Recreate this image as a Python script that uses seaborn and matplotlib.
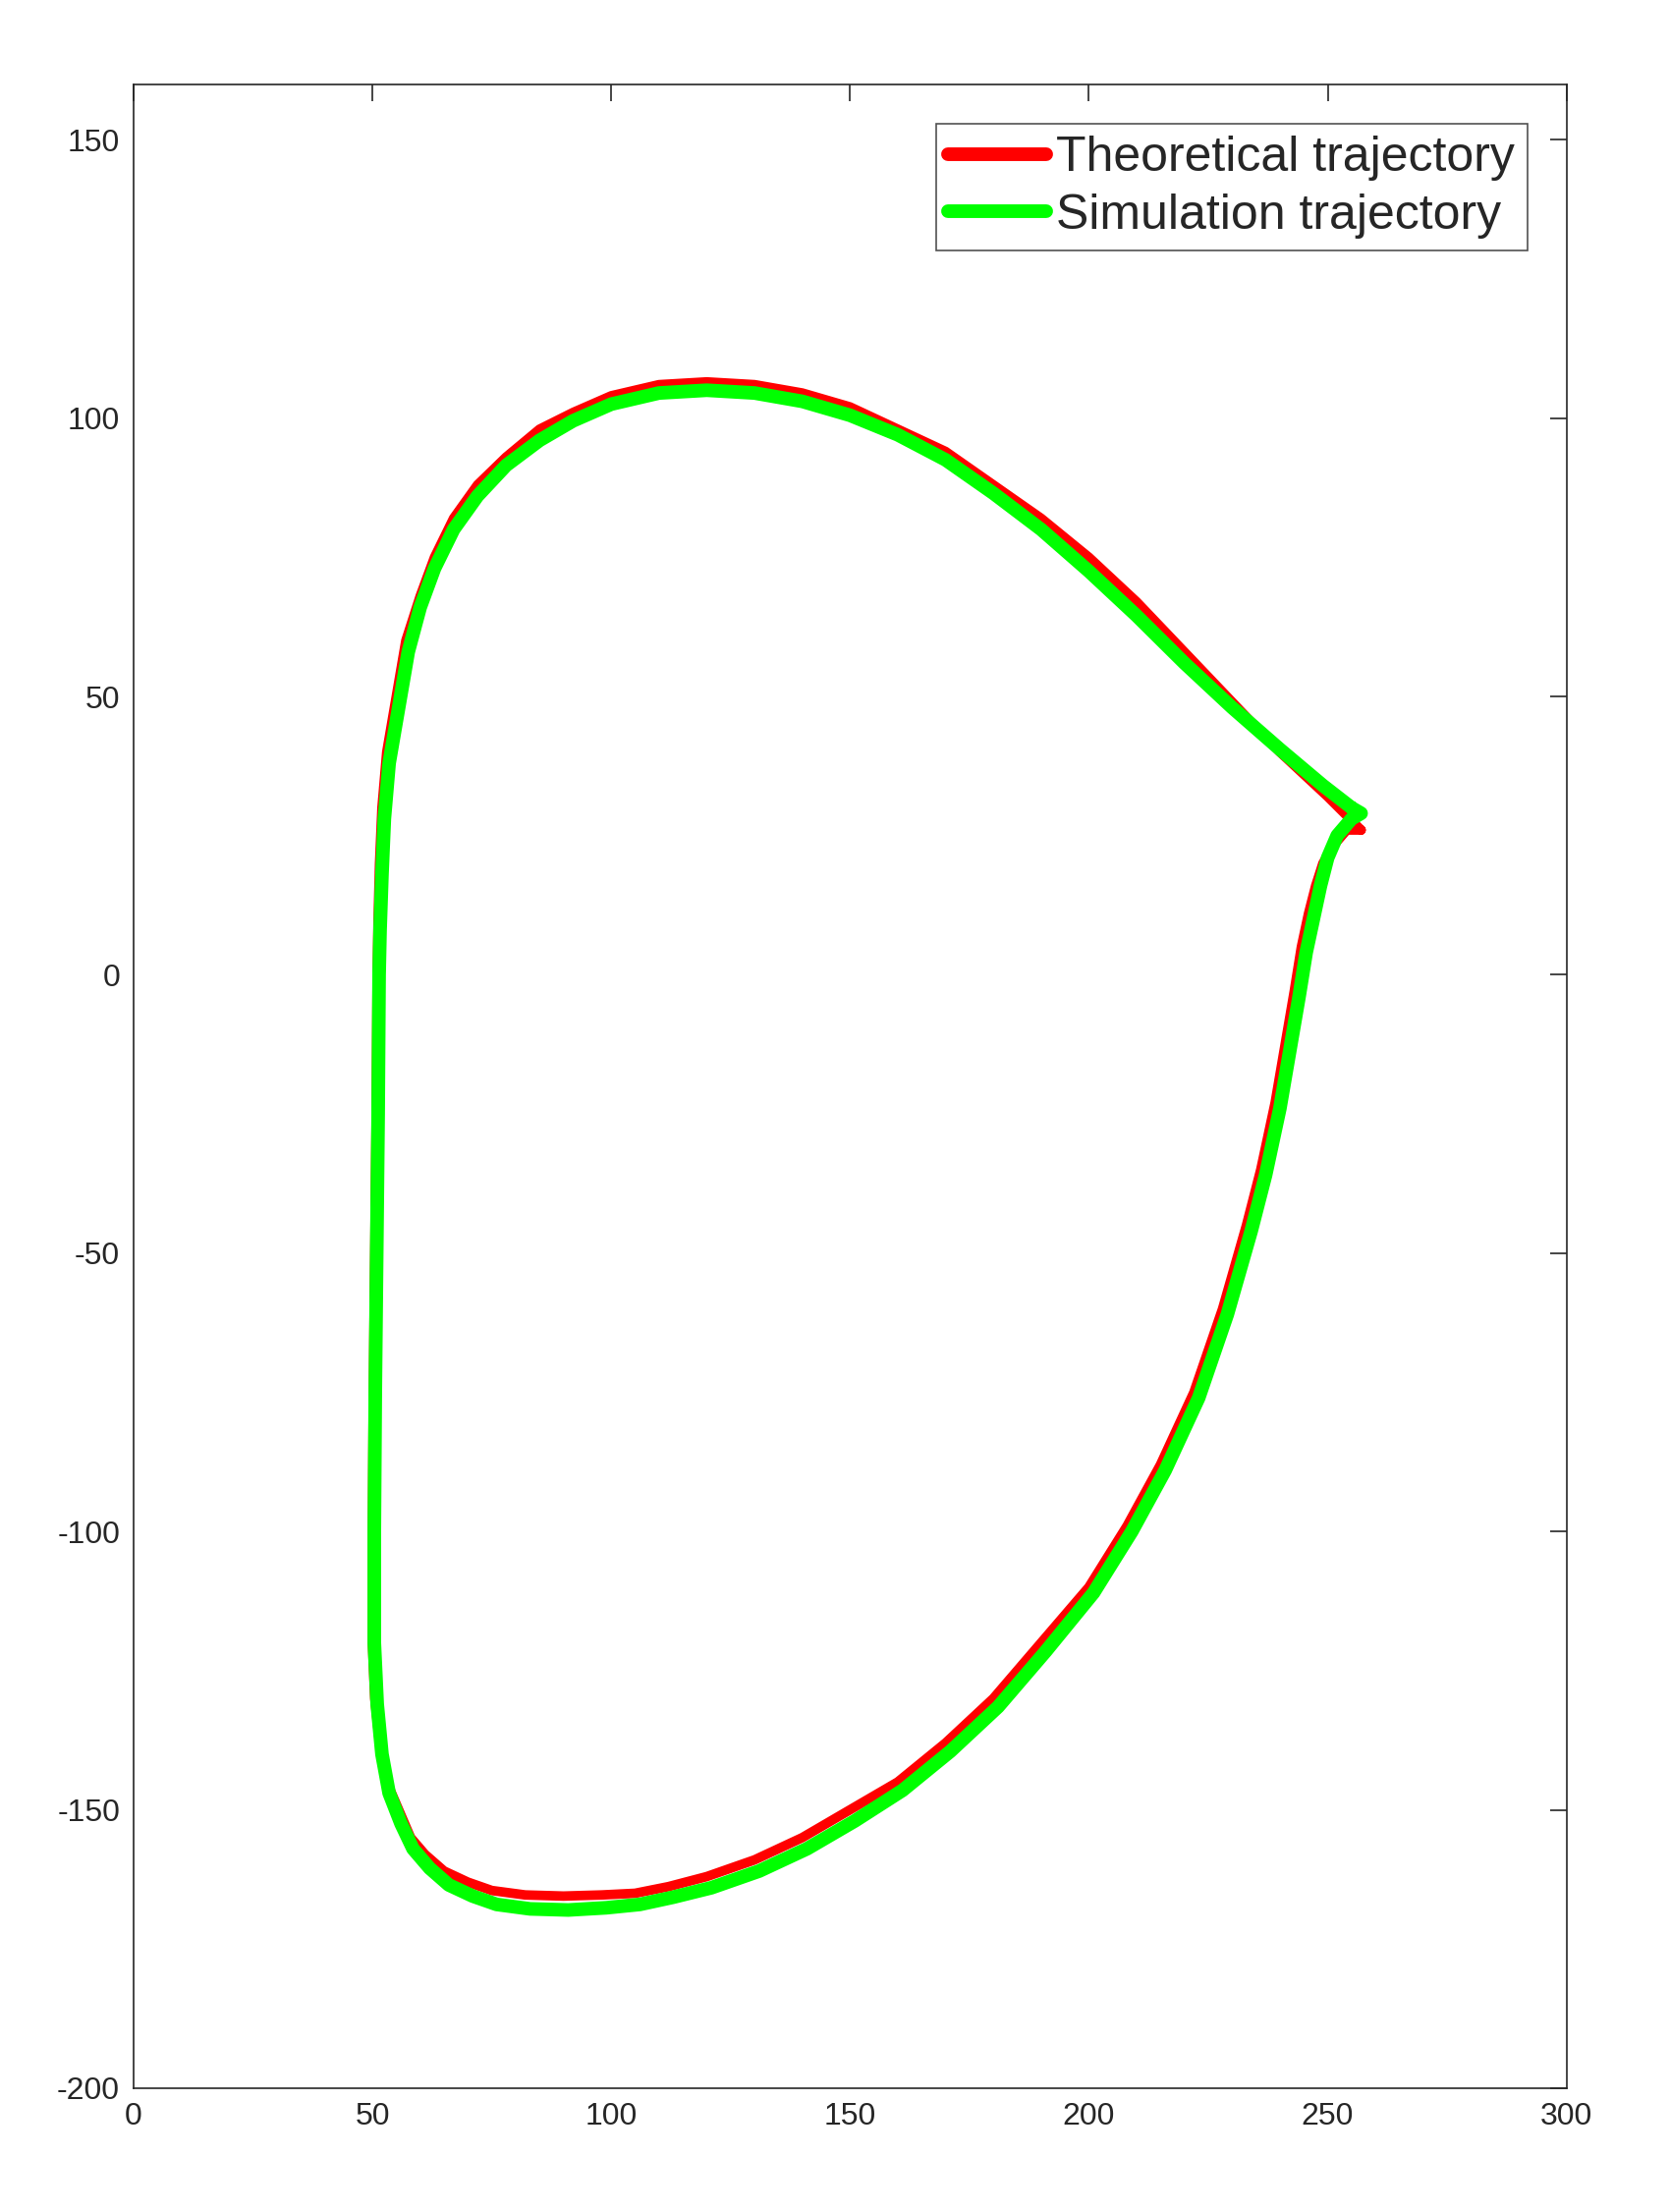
import matplotlib.pyplot as plt
import seaborn as sns
import pandas as pd

sns.set_style("white")
plt.rcParams["font.family"] = ["Liberation Sans", "DejaVu Sans"]
plt.rcParams["axes.unicode_minus"] = False

# Theoretical trajectory (red)
theo_x = [257, 250, 240, 230, 220, 210, 200, 190, 180, 170, 160, 150, 140, 130, 120, 110, 100, 92, 85, 78, 72, 67, 63, 60, 57, 55, 53, 52, 51.5, 51.2, 51, 50.8, 50.5, 50.2, 50, 50, 50.5, 51.5, 53, 55.5, 58, 61, 65, 70, 75, 82, 90, 98, 105, 112, 120, 130, 140, 150, 160, 170, 180, 190, 200, 208, 215, 222, 228, 233, 236, 239, 241, 243, 244.5, 246, 247.5, 249, 251, 254, 257]
theo_y = [26, 32, 40, 49, 58, 67, 75, 82, 88, 94, 98, 102, 104.5, 106, 106.5, 106, 104, 101, 98, 93, 88, 82, 75, 68, 60, 50, 40, 30, 20, 10, 0, -25, -50, -75, -100, -120, -130, -138, -145, -150, -155, -158, -161, -163, -164.5, -165.3, -165.5, -165.3, -165, -163.8, -162, -159, -155, -150, -145, -138, -130, -120, -110, -99, -88, -75, -60, -45, -35, -23, -13, -3, 5, 11, 16, 20, 23, 26, 26]

# Simulation trajectory (green)
sim_x = [255, 249, 240, 230, 220, 210, 200, 190, 180, 170, 160, 150, 140, 130, 120, 110, 100, 92, 85, 78, 72, 67, 63, 60, 57.5, 55.5, 53.5, 52.5, 52, 51.6, 51.4, 51.2, 50.9, 50.6, 50.4, 50.4, 51, 52, 53.5, 56, 58.5, 62, 66, 71, 76, 83, 91, 99, 106, 113, 121, 131, 141, 151, 161, 171, 181, 191, 201, 209, 216, 223, 229, 234, 237, 240, 242, 244, 245.5, 247, 248.5, 250, 252, 255, 257, 255]
sim_y = [30, 34, 40.5, 48, 56, 64.5, 72.5, 80, 86.5, 92.5, 97, 100.5, 103, 104.5, 105, 104.5, 102.5, 99.5, 96, 91.5, 86, 80, 73, 66, 58, 48, 38, 28, 18, 8, 0, -25, -50, -75, -100, -120, -131, -140, -147, -152.5, -157, -160.5, -163.5, -165.5, -167, -167.8, -168, -167.6, -167, -165.7, -164, -161, -157, -152, -146.5, -139.5, -131.5, -121.5, -111, -100, -89, -76, -61, -46, -36, -24, -14, -4, 4, 10, 16, 21, 25, 28, 29, 30]

theo = pd.DataFrame({"x": theo_x, "y": theo_y})
sim = pd.DataFrame({"x": sim_x, "y": sim_y})

fig, ax = plt.subplots(figsize=(17, 22.52), dpi=100)
fig.subplots_adjust(left=0.08, right=0.938, top=0.962, bottom=0.056)

ax.plot(theo["x"], theo["y"], color="#ff0000", lw=7, label="Theoretical trajectory", zorder=2,
        solid_joinstyle="round")
ax.plot(sim["x"], sim["y"], color="#00ff00", lw=10, label="Simulation trajectory", zorder=3,
        solid_joinstyle="round")
ax.plot(theo["x"], theo["y"], color="#ff0000", lw=2.5, zorder=1)

ax.set_xlim(0, 300)
ax.set_ylim(-200, 160)
ax.set_xticks(range(0, 301, 50))
ax.set_yticks(range(-200, 151, 50))
ax.tick_params(direction="in", length=12, width=1.2, labelsize=23, top=True, right=True,
               labelcolor="#262626", pad=10)
for s in ax.spines.values():
    s.set_color("#262626")
    s.set_linewidth(1.2)

leg = ax.legend(loc="upper right", fontsize=36, frameon=True, fancybox=False,
                edgecolor="#262626", handlelength=2.0, borderpad=0.25, labelspacing=0.25,
                handletextpad=0.2, borderaxespad=0.8)
leg.get_frame().set_linewidth(1.2)
for line in leg.get_lines():
    line.set_linewidth(10)

fig.savefig("out.png")
